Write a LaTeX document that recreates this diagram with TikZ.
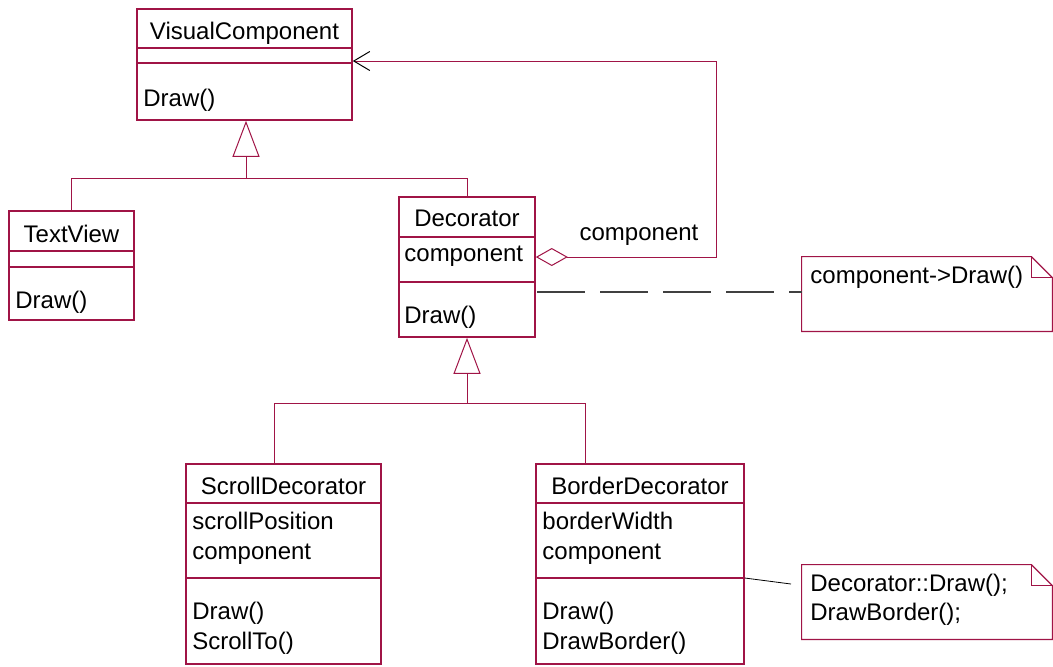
\documentclass[tikz,border=0pt]{standalone}
\usepackage{fontspec}
\setmainfont{Liberation Sans}
\usetikzlibrary{arrows.meta,fit}
\definecolor{umlred}{RGB}{160,20,70}
\tikzset{
  classbox/.style = {draw=umlred, inner sep=0pt, line width=0.8pt},% boite de classe
  notearea/.style = {inner sep=0pt},% zone de note
  notebox/.style = {draw=umlred, line width=0.6pt},
  cname/.style = {anchor=base, inner sep=0pt, font=\fontsize{12}{14}\selectfont},
  cmember/.style = {anchor=base west, inner sep=0pt, font=\fontsize{12}{14}\selectfont},
  cline/.style = {umlred, line width=0.6pt},% separateur
  inherit/.style = {umlred, line width=0.5pt,
    -{Triangle[open, length=18pt, width=13.5pt]}},
  aggr/.style = {umlred, line width=0.5pt,
    {Diamond[open, length=16pt, width=9pt]}-{Straight Barb[length=8pt, width=9.5pt, color=black, line width=0.5pt]}},
  dashlink/.style = {black!75, line width=0.6pt, dash pattern=on 24pt off 7.5pt},
  notelink/.style = {black, line width=0.4pt},
}

\begin{document}
\begin{tikzpicture}[x=0.5pt,y=-0.5pt]
  \useasboundingbox (0,0) rectangle (1053,666);

  %   classes
  \node[classbox, fit={(137,9) (352,120)}] (vc) {};
  \node[classbox, fit={(9,211) (134,320)}] (tv) {};
  \node[classbox, fit={(399,197) (535,337)}] (dec) {};
  \node[classbox, fit={(186,464) (381,664)}] (sd) {};
  \node[classbox, fit={(536,464) (744,664)}] (bd) {};

  \draw[cline] (vc.west |- 0,48) -- (vc.east |- 0,48);
  \draw[cline] (vc.west |- 0,63) -- (vc.east |- 0,63);
  \draw[cline] (tv.west |- 0,251) -- (tv.east |- 0,251);
  \draw[cline] (tv.west |- 0,267) -- (tv.east |- 0,267);
  \draw[cline] (dec.west |- 0,237) -- (dec.east |- 0,237);
  \draw[cline] (dec.west |- 0,282) -- (dec.east |- 0,282);
  \draw[cline] (sd.west |- 0,503) -- (sd.east |- 0,503);
  \draw[cline] (sd.west |- 0,578) -- (sd.east |- 0,578);
  \draw[cline] (bd.west |- 0,503) -- (bd.east |- 0,503);
  \draw[cline] (bd.west |- 0,578) -- (bd.east |- 0,578);

  \node[cname] (vcname) at (244.5,39) {VisualComponent};
  \node[cmember] (vcdraw) at (143,106) {Draw()};
  \node[cname] (tvname) at (71.5,242) {TextView};
  \node[cmember] (tvdraw) at (15,308) {Draw()};
  \node[cname] (decname) at (467,226) {Decorator};
  \node[cmember] (deccomp) at (404,261) {component};
  \node[cmember] (decdraw) at (404,323) {Draw()};
  \node[cname] (sdname) at (283.5,494) {ScrollDecorator};
  \node[cmember] (sdpos) at (192,529) {scrollPosition};
  \node[cmember] (sdcomp) at (192,559) {component};
  \node[cmember] (sddraw) at (192,619) {Draw()};
  \node[cmember] (sdscroll) at (192,649) {ScrollTo()};
  \node[cname] (bdname) at (640,494) {BorderDecorator};
  \node[cmember] (bdwidth) at (542,529) {borderWidth};
  \node[cmember] (bdcomp) at (542,559) {component};
  \node[cmember] (bddraw) at (542,619) {Draw()};
  \node[cmember] (bdborder) at (542,649) {DrawBorder()};

  %   notes
  \node[notearea, fit={(802,257) (1052,331)}] (n1) {};
  \draw[notebox] (n1.north west) -- ([xshift=-10.5pt]n1.north east)
    -- ([yshift=-10.5pt]n1.north east) -- (n1.south east) -- (n1.south west) -- cycle;
  \draw[notebox] ([xshift=-10.5pt]n1.north east) |- ([yshift=-10.5pt]n1.north east);
  \node[cmember] (n1text) at (810,283) {component->Draw()};

  \node[notearea, fit={(802,565) (1052,639)}] (n2) {};
  \draw[notebox] (n2.north west) -- ([xshift=-10.5pt]n2.north east)
    -- ([yshift=-10.5pt]n2.north east) -- (n2.south east) -- (n2.south west) -- cycle;
  \draw[notebox] ([xshift=-10.5pt]n2.north east) |- ([yshift=-10.5pt]n2.north east);
  \node[cmember] (n2line1) at (810,591) {Decorator::Draw();};
  \node[cmember] (n2line2) at (810,620) {DrawBorder();};

  %   inheritance
  \coordinate (j1) at (246,178);
  \coordinate (j2) at (467,403);
  \draw[inherit] (j1) -- (vc.south -| j1);
  \draw[cline, line width=0.5pt] (tv.north) |- (j1) -| (dec.north);
  \draw[inherit] (j2) -- (dec.south -| j2);
  \draw[cline, line width=0.5pt] (sd.north -| 274,0) |- (j2) -| (bd.north -| 585,0);

  %   component reference
  \draw[aggr] (dec.east |- 0,257) -- (716,257) -- (716,61) -- (vc.east |- 0,61);
  \node[cname] (lblcomp) at (639,240) {component};

  %   note links
  \coordinate (d1start) at (537,292);
  \coordinate (n2end) at (791,584);
  \draw[dashlink] (d1start) -- (n1.west |- d1start);
  \draw[notelink] (bd.east |- 0,578) -- (n2end);
\end{tikzpicture}
\end{document}
